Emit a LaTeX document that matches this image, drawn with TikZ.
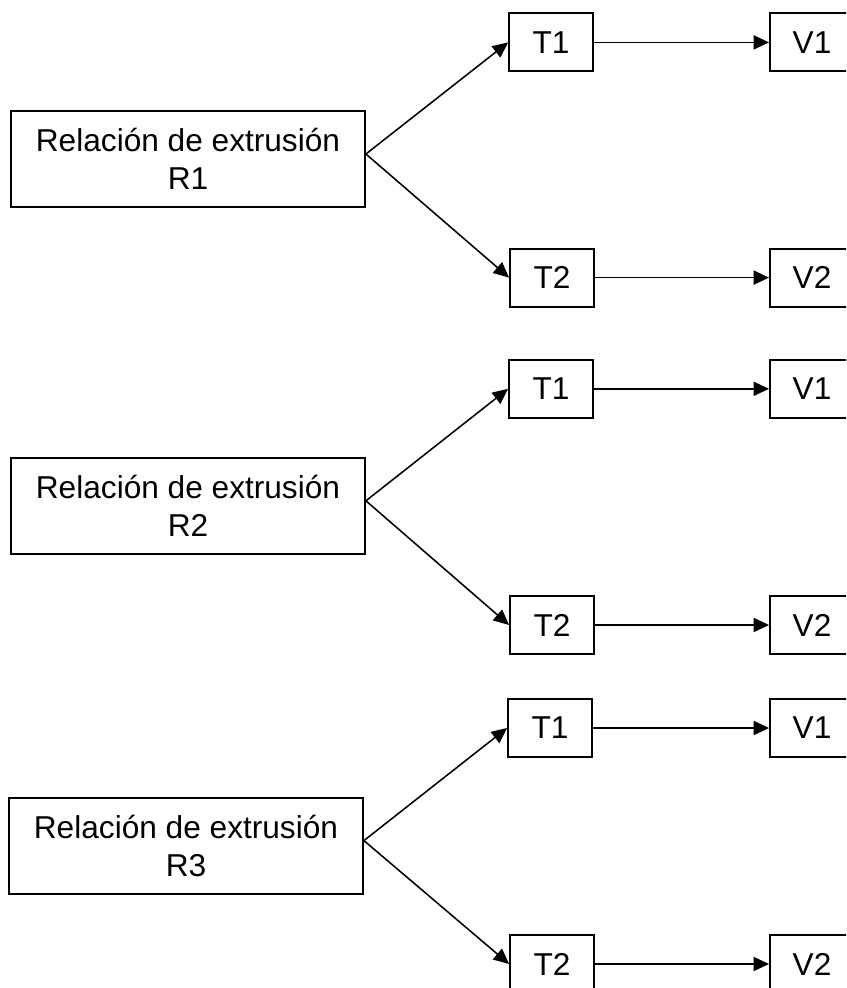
\documentclass[tikz,border=0pt]{standalone}
\usepackage{fontspec}
\setmainfont{Liberation Sans}
\usetikzlibrary{arrows.meta}
\tikzset{
	extbox/.style={draw, line width=1.3pt, minimum width=8.85cm, minimum height=2.4cm,
			inner sep=0pt, align=center, font=\fontsize{22.5}{27}\selectfont},
	tvbox/.style={draw, line width=1.3pt, minimum width=2.1cm, minimum height=1.45cm,
			inner sep=0pt, font=\fontsize{22.5}{27}\selectfont},
	arr/.style={line width=1.1pt, -{Triangle[length=11pt, width=10pt]}}
}

\begin{document}
\begin{tikzpicture}
        \clip (0, 0) rectangle (21.15, -24.7);
        % R1
        \node[extbox] (R_1) at (4.7, -3.975) {Relación de extrusión\\R1};
        \node[tvbox] (T1_R1) at (13.775, -1.06) {T1};
        \node[tvbox] (V1_R1) at (20.3, -1.06) {V1};
        \node[tvbox] (T2_R1) at (13.8, -6.94) {T2};
        \node[tvbox] (V2_R1) at (20.3, -6.94) {V2};
        \draw[arr] ([yshift=0.125cm]R_1.east) -- (T1_R1.west);
        \draw[arr] ([yshift=0.125cm]R_1.east) -- (T2_R1.west);
        \draw[arr] (T1_R1) -- (V1_R1);
        \draw[arr] (T2_R1) -- (V2_R1);
        % R2
        \node[extbox] (R_2) at (4.7, -12.645) {Relación de extrusión\\R2};
        \node[tvbox] (T1_R2) at (13.775, -9.72) {T1};
        \node[tvbox] (V1_R2) at (20.3, -9.72) {V1};
        \node[tvbox] (T2_R2) at (13.8, -15.625) {T2};
        \node[tvbox] (V2_R2) at (20.3, -15.625) {V2};
        \draw[arr] ([yshift=0.125cm]R_2.east) -- (T1_R2.west);
        \draw[arr] ([yshift=0.125cm]R_2.east) -- (T2_R2.west);
        \draw[arr] (T1_R2) -- (V1_R2);
        \draw[arr] (T2_R2) -- (V2_R2);
        % R3
        \node[extbox] (R_3) at (4.65, -21.14) {Relación de extrusión\\R3};
        \node[tvbox] (T1_R3) at (13.75, -18.2) {T1};
        \node[tvbox] (V1_R3) at (20.3, -18.2) {V1};
        \node[tvbox] (T2_R3) at (13.8, -24.1) {T2};
        \node[tvbox] (V2_R3) at (20.3, -24.1) {V2};
        \draw[arr] ([yshift=0.125cm]R_3.east) -- (T1_R3.west);
        \draw[arr] ([yshift=0.125cm]R_3.east) -- (T2_R3.west);
        \draw[arr] (T1_R3) -- (V1_R3);
        \draw[arr] (T2_R3) -- (V2_R3);
    \end{tikzpicture}
\end{document}
